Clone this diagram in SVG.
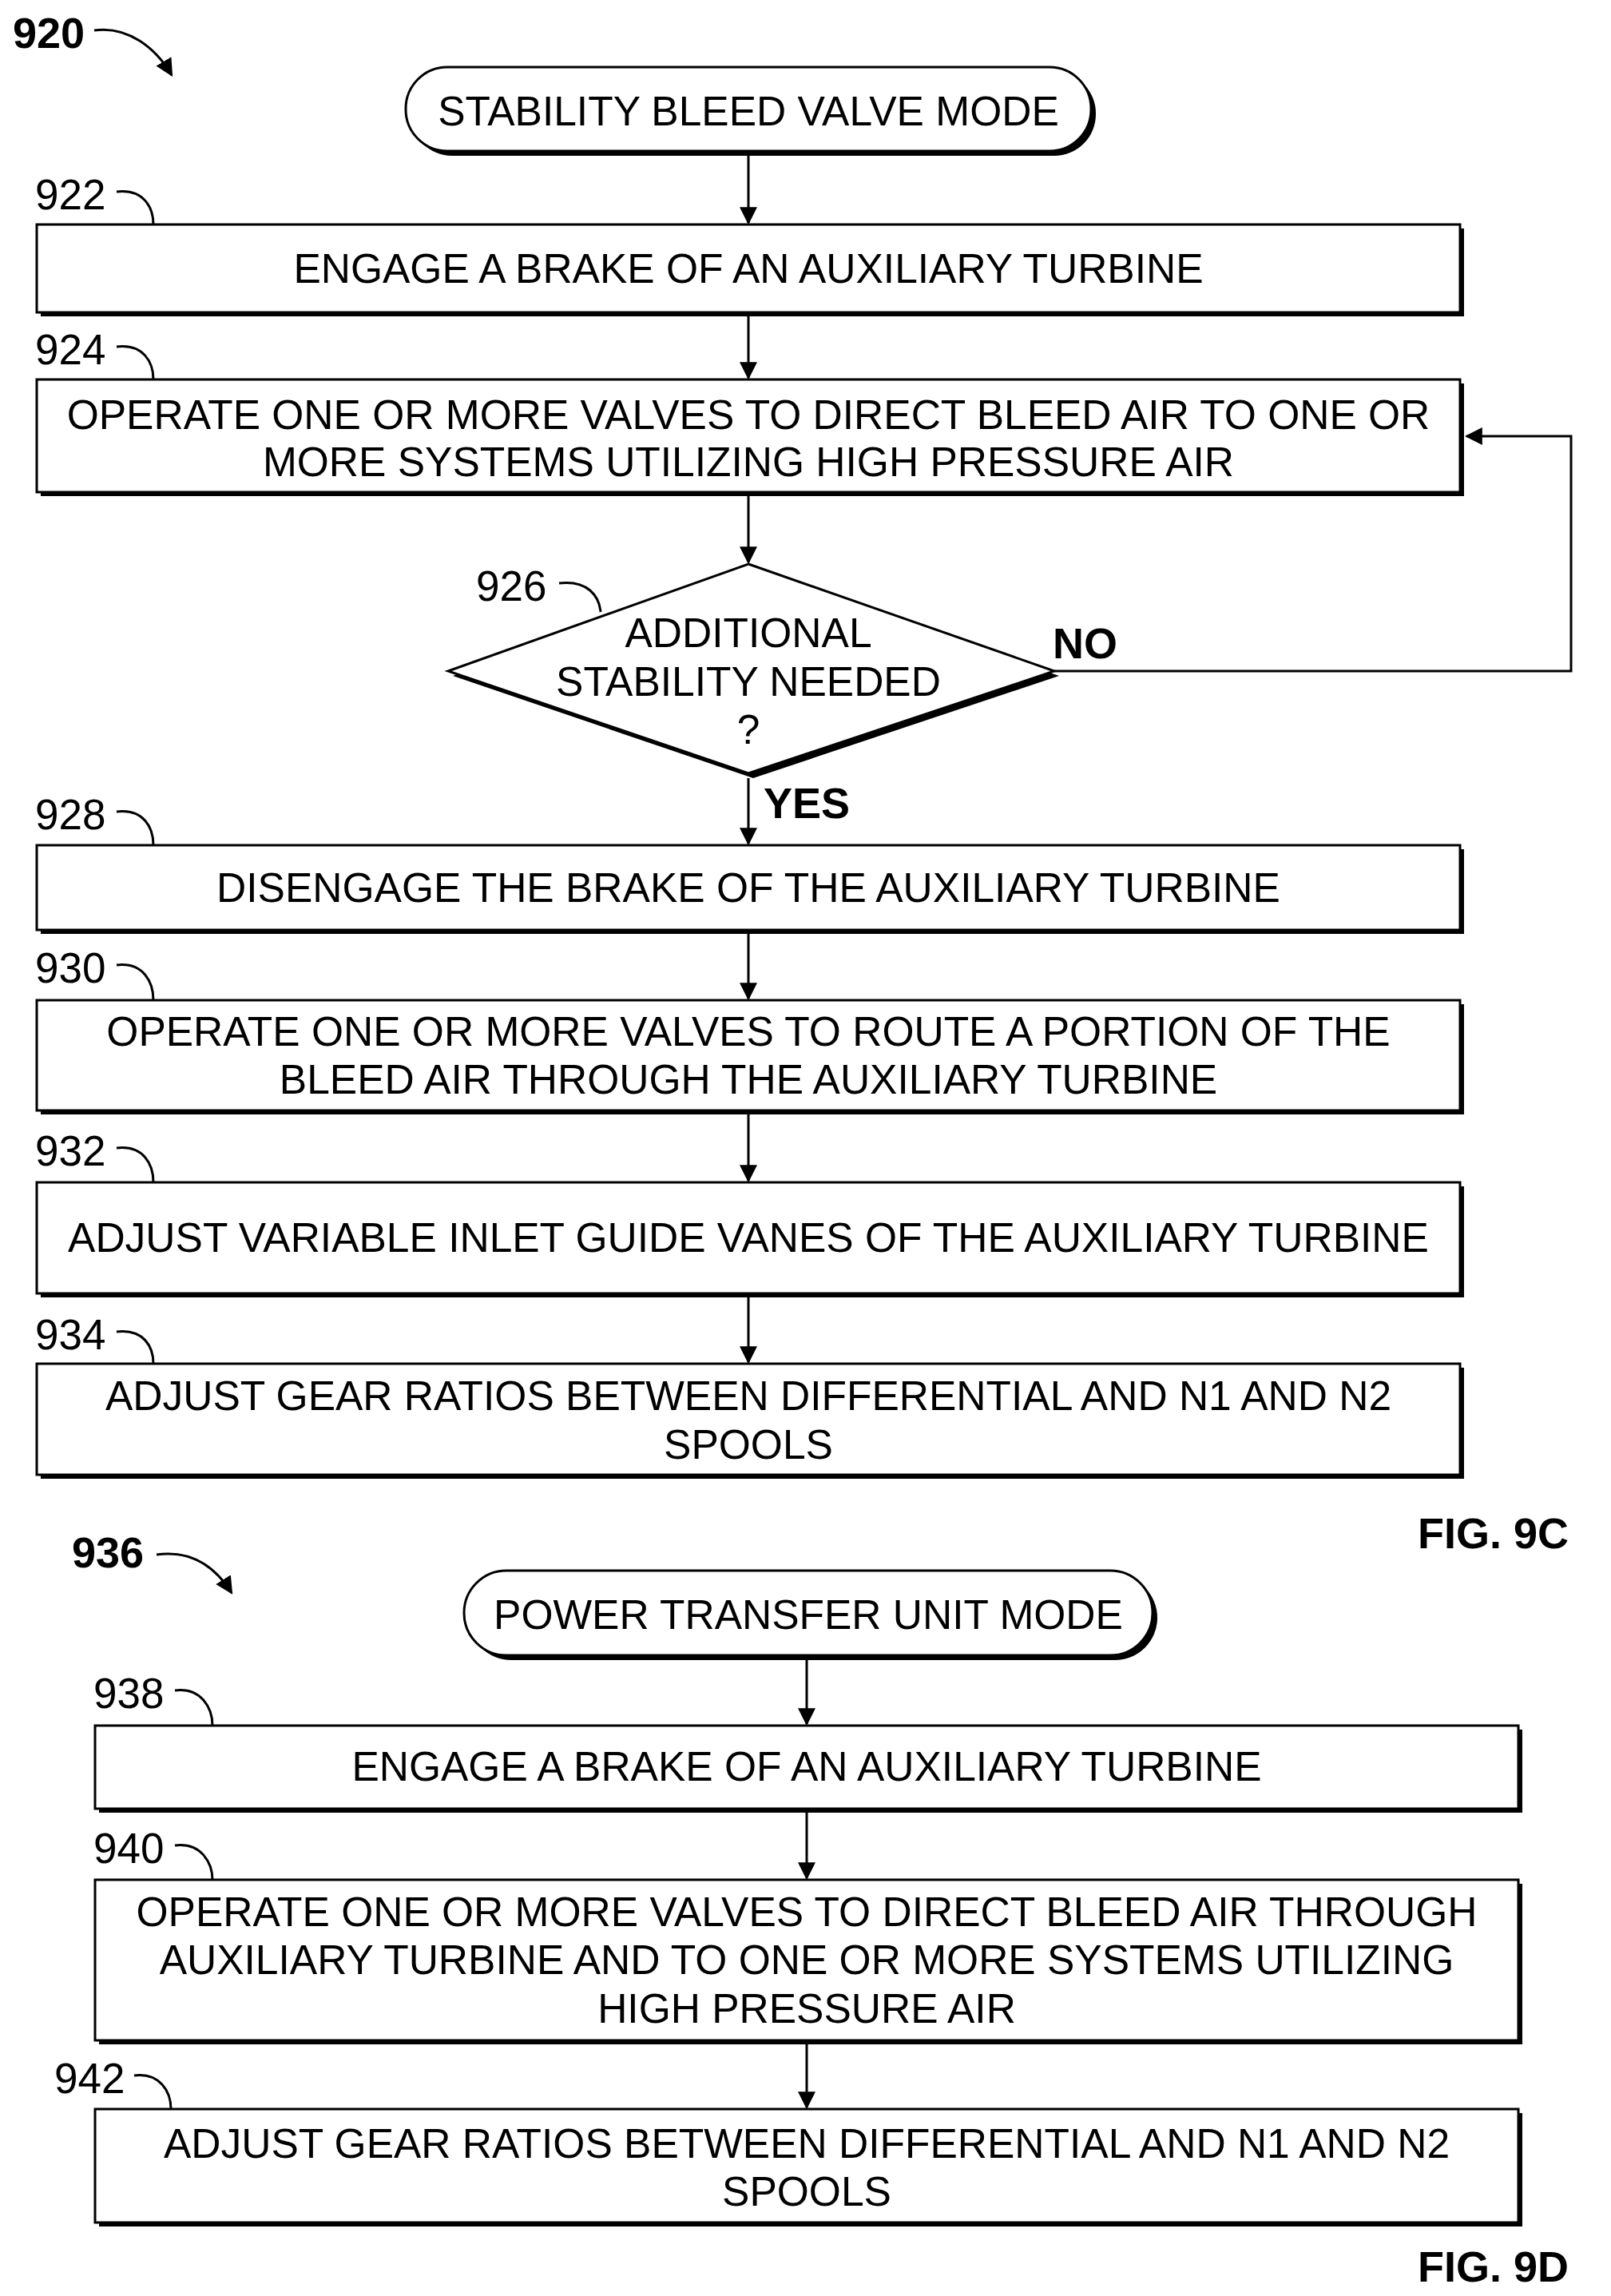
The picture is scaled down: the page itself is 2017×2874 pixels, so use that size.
<svg xmlns="http://www.w3.org/2000/svg" width="2017" height="2874" viewBox="0 0 2017 2874">
<style>
.b{fill:#fff;stroke:#000;stroke-width:3}
.s{fill:#000}
.t{font-family:"Liberation Sans",Arial,sans-serif;font-size:51.5px;text-anchor:middle;fill:#000}
.l{font-family:"Liberation Sans",Arial,sans-serif;font-size:53px;fill:#000}
.bl{font-family:"Liberation Sans",Arial,sans-serif;font-size:54px;font-weight:bold;fill:#000}
.c{fill:none;stroke:#000;stroke-width:3}
</style>
<defs>
<marker id="A" viewBox="0 0 10 10" refX="9" refY="5" markerWidth="22" markerHeight="22" orient="auto" markerUnits="userSpaceOnUse"><path d="M0,0 L10,5 L0,10 z"/></marker>
</defs>
<g id="labels">
<text class="bl" x="16" y="60" font-size="57">920</text>
<path class="c" d="M118,38 C160,32 195,60 215,94" stroke-width="4" marker-end="url(#A)"/>
<text class="bl" x="90" y="1962" font-size="57">936</text>
<path class="c" d="M196,1946 C240,1940 270,1962 290,1994" stroke-width="4" marker-end="url(#A)"/>
<text class="bl" x="1775" y="1938" font-size="64">FIG. 9C</text>
<text class="bl" x="1775" y="2856" font-size="64">FIG. 9D</text>
<text class="bl" x="1318" y="824">NO</text>
<text class="bl" x="956" y="1024">YES</text>
</g>
<g id="n920">
<rect class="s" x="514" y="90" width="858" height="105" rx="52"/>
<rect class="b" x="508" y="84" width="858" height="105" rx="52"/>
<text class="t" x="937" y="157">STABILITY BLEED VALVE MODE</text>
</g>
<g id="n922">
<text class="l" x="44" y="262">922</text><path class="c" d="M146,240 C180,236 192,260 192,281"/>
<rect class="s" x="51" y="286" width="1782" height="110"/>
<rect class="b" x="46" y="281" width="1782" height="110"/>
<text class="t" x="937" y="354">ENGAGE A BRAKE OF AN AUXILIARY TURBINE</text>
</g>
<g id="n924">
<text class="l" x="44" y="456">924</text><path class="c" d="M146,434 C180,430 192,454 192,475"/>
<rect class="s" x="51" y="480" width="1782" height="141"/>
<rect class="b" x="46" y="475" width="1782" height="141"/>
<text class="t" x="937" y="537">OPERATE ONE OR MORE VALVES TO DIRECT BLEED AIR TO ONE OR</text>
<text class="t" x="937" y="596">MORE SYSTEMS UTILIZING HIGH PRESSURE AIR</text>
</g>
<g id="n926">
<text class="l" x="596" y="752">926</text><path class="c" d="M700,730 C736,726 750,746 752,766"/>
<path class="s" d="M943,712 L1326,846 L943,974 L567,846 z"/>
<path class="b" d="M937,706 L1320,840 L937,968 L561,840 z"/>
<text class="t" x="937" y="810">ADDITIONAL</text>
<text class="t" x="937" y="871">STABILITY NEEDED</text>
<text class="t" x="937" y="931">?</text>
</g>
<g id="n928">
<text class="l" x="44" y="1038">928</text><path class="c" d="M146,1016 C180,1012 192,1036 192,1058"/>
<rect class="s" x="51" y="1063" width="1782" height="106"/>
<rect class="b" x="46" y="1058" width="1782" height="106"/>
<text class="t" x="937" y="1129">DISENGAGE THE BRAKE OF THE AUXILIARY TURBINE</text>
</g>
<g id="n930">
<text class="l" x="44" y="1230">930</text><path class="c" d="M146,1208 C180,1204 192,1230 192,1252"/>
<rect class="s" x="51" y="1257" width="1782" height="138"/>
<rect class="b" x="46" y="1252" width="1782" height="138"/>
<text class="t" x="937" y="1309">OPERATE ONE OR MORE VALVES TO ROUTE A PORTION OF THE</text>
<text class="t" x="937" y="1369">BLEED AIR THROUGH THE AUXILIARY TURBINE</text>
</g>
<g id="n932">
<text class="l" x="44" y="1459">932</text><path class="c" d="M146,1437 C180,1433 192,1458 192,1480"/>
<rect class="s" x="51" y="1485" width="1782" height="139"/>
<rect class="b" x="46" y="1480" width="1782" height="139"/>
<text class="t" x="937" y="1567">ADJUST VARIABLE INLET GUIDE VANES OF THE AUXILIARY TURBINE</text>
</g>
<g id="n934">
<text class="l" x="44" y="1689">934</text><path class="c" d="M146,1667 C180,1663 192,1686 192,1707"/>
<rect class="s" x="51" y="1712" width="1782" height="139"/>
<rect class="b" x="46" y="1707" width="1782" height="139"/>
<text class="t" x="937" y="1765">ADJUST GEAR RATIOS BETWEEN DIFFERENTIAL AND N1 AND N2</text>
<text class="t" x="937" y="1826">SPOOLS</text>
</g>
<g id="n936">
<rect class="s" x="587" y="1972" width="862" height="106" rx="53"/>
<rect class="b" x="581" y="1966" width="862" height="106" rx="53"/>
<text class="t" x="1012" y="2039">POWER TRANSFER UNIT MODE</text>
</g>
<g id="n938">
<text class="l" x="117" y="2138">938</text><path class="c" d="M219,2116 C252,2112 266,2138 266,2160"/>
<rect class="s" x="124" y="2165" width="1782" height="104"/>
<rect class="b" x="119" y="2160" width="1782" height="104"/>
<text class="t" x="1010" y="2229">ENGAGE A BRAKE OF AN AUXILIARY TURBINE</text>
</g>
<g id="n940">
<text class="l" x="117" y="2332">940</text><path class="c" d="M219,2310 C252,2306 266,2332 266,2353"/>
<rect class="s" x="124" y="2358" width="1782" height="201"/>
<rect class="b" x="119" y="2353" width="1782" height="201"/>
<text class="t" x="1010" y="2411">OPERATE ONE OR MORE VALVES TO DIRECT BLEED AIR THROUGH</text>
<text class="t" x="1010" y="2471">AUXILIARY TURBINE AND TO ONE OR MORE SYSTEMS UTILIZING</text>
<text class="t" x="1010" y="2532">HIGH PRESSURE AIR</text>
</g>
<g id="n942">
<text class="l" x="68" y="2620">942</text><path class="c" d="M168,2598 C200,2594 214,2618 214,2640"/>
<rect class="s" x="124" y="2645" width="1782" height="142"/>
<rect class="b" x="119" y="2640" width="1782" height="142"/>
<text class="t" x="1010" y="2701">ADJUST GEAR RATIOS BETWEEN DIFFERENTIAL AND N1 AND N2</text>
<text class="t" x="1010" y="2761">SPOOLS</text>
</g>
<g id="connectors">
<path class="c" d="M937,195 V279" marker-end="url(#A)"/>
<path class="c" d="M937,396 V473" marker-end="url(#A)"/>
<path class="c" d="M937,621 V704" marker-end="url(#A)"/>
<path class="c" d="M937,974 V1056" marker-end="url(#A)"/>
<path class="c" d="M1320,840 H1967 V546 H1836" marker-end="url(#A)"/>
<path class="c" d="M937,1169 V1250" marker-end="url(#A)"/>
<path class="c" d="M937,1395 V1478" marker-end="url(#A)"/>
<path class="c" d="M937,1624 V1705" marker-end="url(#A)"/>
<path class="c" d="M1010,2078 V2158" marker-end="url(#A)"/>
<path class="c" d="M1010,2269 V2351" marker-end="url(#A)"/>
<path class="c" d="M1010,2559 V2638" marker-end="url(#A)"/>
</g>
</svg>
